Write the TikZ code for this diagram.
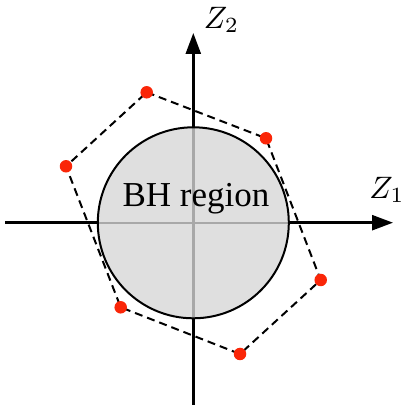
\documentclass[tikz,border=0pt]{standalone}
\usepackage{fontspec}
\newfontfamily\timesfont{Liberation Serif}
\usetikzlibrary{arrows.meta}
\definecolor{dotred}{RGB}{250,38,8}
\definecolor{bhfill}{RGB}{223,223,223}
\definecolor{axisgray}{RGB}{168,168,168}
\begin{document}
\begin{tikzpicture}[x=1pt,y=1pt,
  axisline/.style={line width=2.5pt,-{Triangle[length=21pt,width=15pt]}},
  hexline/.style={line width=2pt,dash pattern=on 8pt off 5pt},
  reddot/.style={circle,fill=dotred,inner sep=0pt,minimum size=12.5pt},
  lbl/.style={inner sep=0pt,scale=3.1}]
\useasboundingbox (0,0) rectangle (409,411);
% axes
\coordinate (xl) at (5,188.3);
\coordinate (xr) at (393,188.3);
\coordinate (yb) at (193.3,6);
\coordinate (yt) at (193.3,378);
\coordinate (o) at (193.3,188.2);
\draw[axisline] (xl) -- (xr);
\draw[axisline] (yb) -- (yt);
% BH region
\fill[bhfill] (o) circle (95.5);
\draw[axisgray,line width=2.5pt] ([xshift=-95.5pt]o) -- ([xshift=95.5pt]o);
\draw[axisgray,line width=2.5pt] ([yshift=-95.5pt]o) -- ([yshift=95.5pt]o);
\draw[line width=2pt] (o) circle (95.5);
\node[anchor=base,inner sep=0pt,font=\timesfont\fontsize{35}{37}\selectfont] (bh) at (196,204.3) {BH region};
% labels
\node[lbl] (z1) at (387,221) {$Z_1$};
\node[lbl] (z2) at (221.5,391) {$Z_2$};
% polygon
\coordinate (A) at (146.7,318.7);
\coordinate (B) at (266,272.7);
\coordinate (C) at (320.7,131);
\coordinate (D) at (240,57);
\coordinate (E) at (120.7,103.7);
\coordinate (F) at (66,244.7);
\draw[hexline] (A) -- (B) -- (C) -- (D) -- (E) -- (F) -- cycle;
\foreach \p in {A,B,C,D,E,F} \node[reddot] (dot\p) at (\p) {};
\end{tikzpicture}
\end{document}
